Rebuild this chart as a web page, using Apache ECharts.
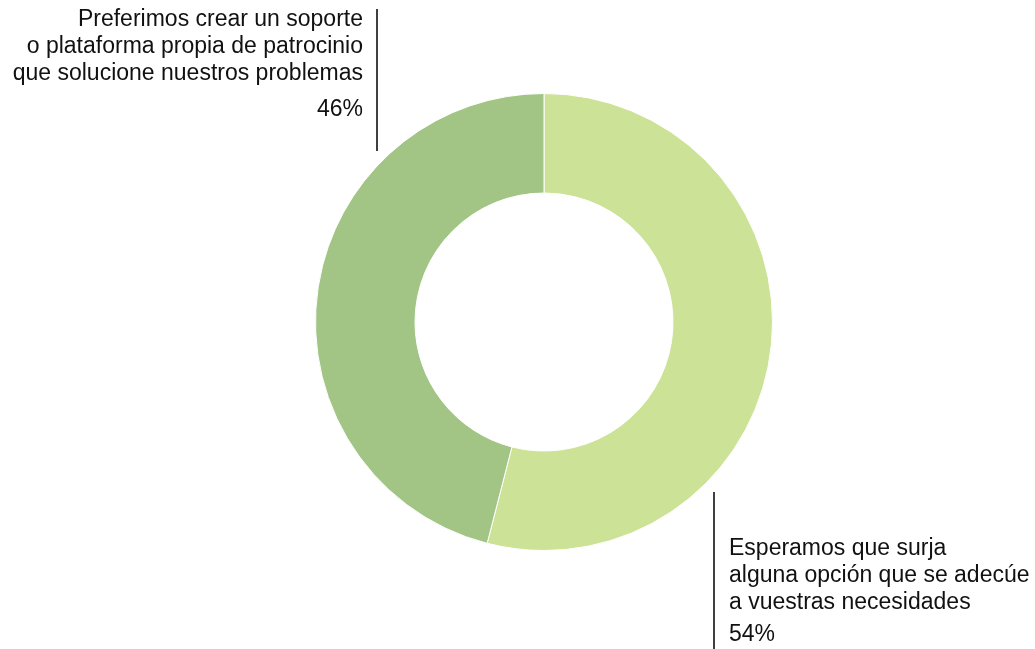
<!DOCTYPE html>
<html>
<head>
<meta charset="utf-8">
<script src="https://cdn.jsdelivr.net/npm/echarts@6/dist/echarts.min.js"></script>
<style>
html,body{margin:0;padding:0;background:#fff;}
#chart{width:1035px;height:649px;}
</style>
</head>
<body>
<div id="chart"></div>
<script>
const categories = [
  "Esperamos que surja\nalguna opción que se adecúe\na vuestras necesidades",
  "Preferimos crear un soporte\no plataforma propia de patrocinio\nque solucione nuestros problemas"
];
const values = [54, 46];
const colors = ["#cce296", "#a2c586"];

const chart = echarts.init(document.getElementById('chart'));
const font = '"Liberation Sans", Arial, sans-serif';
const textStyle = (txt, extra) => Object.assign({
  text: txt, fill: '#111111', font: '23px ' + font, lineHeight: 27
}, extra);

chart.setOption({
  animation: false,
  series: [{
    type: 'pie',
    center: [544, 322],
    radius: [129, 228.5],
    startAngle: 90,
    clockwise: true,
    label: {show: false},
    labelLine: {show: false},
    itemStyle: {borderColor: '#ffffff', borderWidth: 1},
    data: categories.map((c, i) => ({name: c, value: values[i], itemStyle: {color: colors[i]}}))
  }],
  graphic: [
    {type: 'line', shape: {x1: 377, y1: 9, x2: 377, y2: 151}, style: {stroke: '#000', lineWidth: 1.5}},
    {type: 'text', right: 1035 - 363, top: 6, style: textStyle(categories[1], {textAlign: 'right'})},
    {type: 'text', right: 1035 - 363, top: 96, style: textStyle(values[1] + '%', {textAlign: 'right'})},
    {type: 'line', shape: {x1: 714, y1: 492, x2: 714, y2: 649}, style: {stroke: '#000', lineWidth: 1.5}},
    {type: 'text', left: 729, top: 535, style: textStyle(categories[0])},
    {type: 'text', left: 729, top: 621, style: textStyle(values[0] + '%')}
  ]
});
</script>
</body>
</html>
